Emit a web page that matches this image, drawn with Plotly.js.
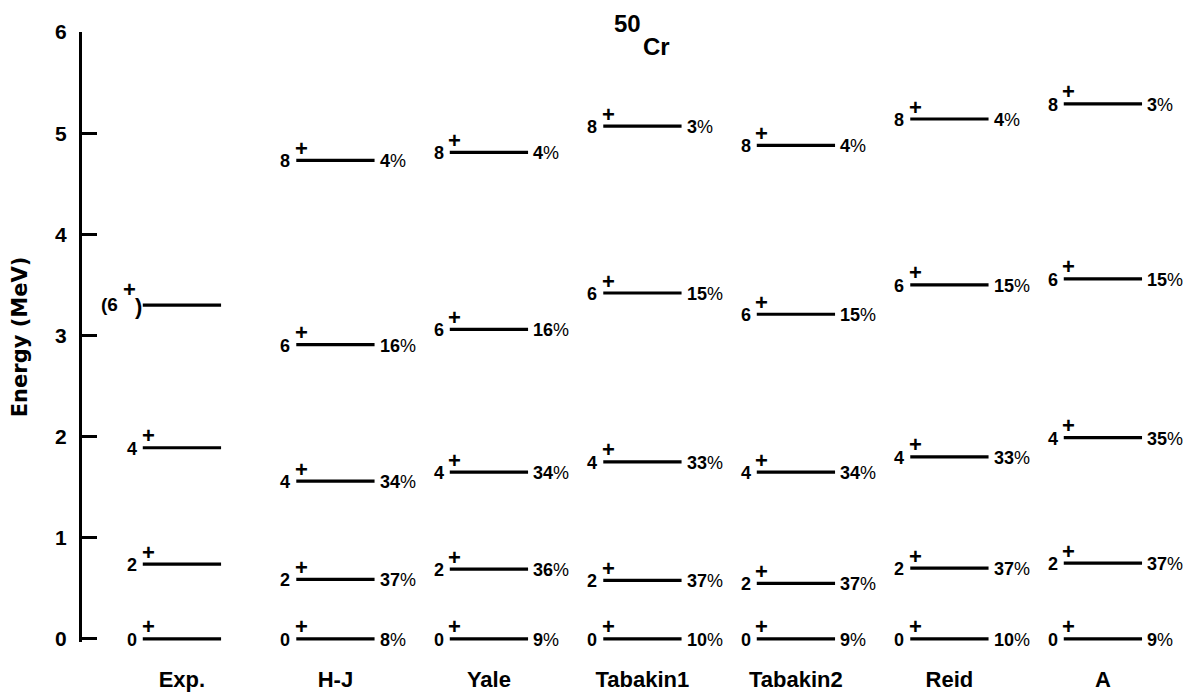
<!DOCTYPE html>
<html><head><meta charset="utf-8">
<script src="https://cdn.plot.ly/plotly-3.0.1.min.js"></script>
<style>html,body{margin:0;padding:0;background:#fff}</style>
</head><body>
<div id="chart" style="width:1195px;height:694px"></div>
<script>
// Column (model) names shown under the levels
const models = ['Exp.', 'H-J', 'Yale', 'Tabakin1', 'Tabakin2', 'Reid', 'A'];
// Spin labels (J, all positive parity)
const spinLabels = ['0', '2', '4', '6', '8'];

// Experimental levels (MeV)
const expEnergies = [0, 0.74, 1.89, 3.30];
const expSpinText = ['0', '2', '4', '(6'];
const expSpinClose = ['', '', '', ')'];

// Calculated levels (MeV) and percentages
const hjEnergies   = [0, 0.59, 1.56, 2.91, 4.73];
const hjPercent    = [8, 37, 34, 16, 4];
const yaleEnergies = [0, 0.69, 1.65, 3.06, 4.81];
const yalePercent  = [9, 36, 34, 16, 4];
const tab1Energies = [0, 0.58, 1.75, 3.42, 5.07];
const tab1Percent  = [10, 37, 33, 15, 3];
const tab2Energies = [0, 0.55, 1.65, 3.21, 4.88];
const tab2Percent  = [9, 37, 34, 15, 4];
const reidEnergies = [0, 0.70, 1.80, 3.50, 5.14];
const reidPercent  = [10, 37, 33, 15, 4];
const aEnergies    = [0, 0.75, 1.99, 3.56, 5.29];
const aPercent     = [9, 37, 35, 15, 3];

const yTicks = [0, 1, 2, 3, 4, 5, 6];

const theory = [
  {E: hjEnergies, P: hjPercent},
  {E: yaleEnergies, P: yalePercent},
  {E: tab1Energies, P: tab1Percent},
  {E: tab2Energies, P: tab2Percent},
  {E: reidEnergies, P: reidPercent},
  {E: aEnergies, P: aPercent}
];

const HALF_EXP = 0.255;
const HALF = 0.255;
const FONT = 'Liberation Sans, Arial, sans-serif';

const traces = [];
const annotations = [];

function levelTrace(col, energies, half) {
  const x = [], y = [];
  energies.forEach(e => { x.push(col - half, col + half, null); y.push(e, e, null); });
  return {x, y, type: 'scatter', mode: 'lines', line: {color: '#000', width: 3.2},
          hoverinfo: 'skip', showlegend: false};
}
function spinAnn(col, e, txt, half) {
  annotations.push({x: col - half, y: e, xref: 'x', yref: 'y', text: txt, showarrow: false,
    xanchor: 'right', yanchor: 'middle', xshift: -4, yshift: -1,
    font: {family: FONT, size: 18, weight: 'bold', color: '#000'}});
}
function plusAnn(col, e, half, dx, dy) {
  annotations.push({x: col - half, y: e, xref: 'x', yref: 'y', text: '+', showarrow: false,
    xanchor: 'center', yanchor: 'middle', xshift: dx, yshift: dy,
    font: {family: FONT, size: 22, weight: 'bold', color: '#000'}});
}

// Experimental column
traces.push(levelTrace(0, expEnergies, HALF_EXP));
expEnergies.forEach((e, k) => {
  if (expSpinClose[k]) {
    annotations.push({x: -HALF_EXP, y: e, xref: 'x', yref: 'y', text: expSpinText[k], showarrow: false,
      xanchor: 'right', yanchor: 'middle', xshift: -23, yshift: 1,
      font: {family: FONT, size: 19, weight: 'bold', color: '#000'}});
    plusAnn(0, e, HALF_EXP, -13, 16);
    annotations.push({x: -HALF_EXP, y: e, xref: 'x', yref: 'y', text: expSpinClose[k], showarrow: false,
      xanchor: 'right', yanchor: 'middle', xshift: 1, yshift: -1,
      font: {family: FONT, size: 22, weight: 'bold', color: '#000'}});
  } else {
    spinAnn(0, e, expSpinText[k], HALF_EXP);
    plusAnn(0, e, HALF_EXP, 6, 12);
  }
});

// Theory columns
theory.forEach((m, i) => {
  const col = i + 1;
  traces.push(levelTrace(col, m.E, HALF));
  m.E.forEach((e, k) => {
    spinAnn(col, e, spinLabels[k], HALF);
    plusAnn(col, e, HALF, 5, 12);
    annotations.push({x: col + HALF, y: e, xref: 'x', yref: 'y',
      text: '<b>' + m.P[k] + '</b>%', showarrow: false,
      xanchor: 'left', yanchor: 'middle', xshift: 3, yshift: -1,
      font: {family: FONT, size: 18, color: '#000'}});
  });
});

// Nucleus label
annotations.push({xref: 'paper', yref: 'paper', x: 0.4897, y: 1, yshift: 9, text: '50',
  showarrow: false, xanchor: 'center', yanchor: 'middle',
  font: {family: FONT, size: 24, weight: 'bold', color: '#000'}});
annotations.push({xref: 'paper', yref: 'paper', x: 0.5166, y: 1, yshift: -14, text: 'Cr',
  showarrow: false, xanchor: 'center', yanchor: 'middle',
  font: {family: FONT, size: 24, weight: 'bold', color: '#000'}});

const layout = {
  width: 1195, height: 694,
  margin: {l: 82, r: 0, t: 32, b: 52},
  paper_bgcolor: '#fff', plot_bgcolor: '#fff',
  showlegend: false,
  font: {family: FONT, color: '#000'},
  xaxis: {
    range: [-0.651, 6.60], tickmode: 'array', tickvals: models.map((_, i) => i), ticktext: models,
    showline: false, showgrid: false, zeroline: false, ticks: '', ticklabelstandoff: 22,
    tickfont: {family: FONT, size: 22, weight: 'bold', color: '#000'}, fixedrange: true
  },
  yaxis: {
    range: [-0.03, 6], tickmode: 'array', tickvals: yTicks, ticktext: yTicks.map(String),
    showline: true, linewidth: 3, linecolor: '#000', mirror: false,
    ticks: 'inside', ticklen: 15, tickwidth: 3, tickcolor: '#000',
    showgrid: false, zeroline: false, ticklabelstandoff: 8,
    tickfont: {family: FONT, size: 21, weight: 'bold', color: '#000'},
    title: {text: 'Energy (MeV)', standoff: 22,
            font: {family: 'DejaVu Sans, sans-serif', size: 21, weight: 'bold', color: '#000'}},
    fixedrange: true
  },
  annotations: annotations
};

Plotly.newPlot('chart', traces, layout, {displayModeBar: false, staticPlot: true});
</script>
</body></html>
